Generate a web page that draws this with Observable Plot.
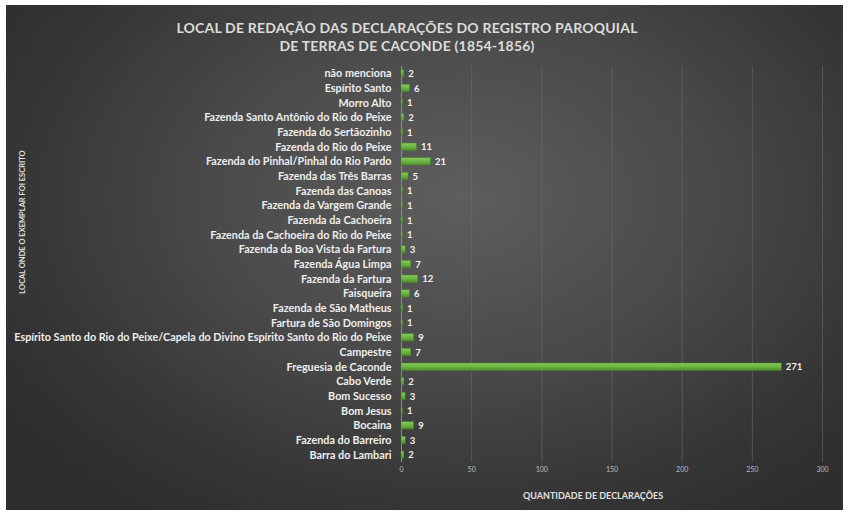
<!DOCTYPE html>
<html><head><meta charset="utf-8">
<script src="https://cdn.jsdelivr.net/npm/d3@7"></script>
<script src="https://cdn.jsdelivr.net/npm/@observablehq/plot@0.6"></script>
<style>
html,body{margin:0;padding:0;background:#fff;}
#page{position:relative;width:850px;height:517px;background:#fff;overflow:hidden;font-family:Lato,"Open Sans",sans-serif;}
#panel{position:absolute;left:6px;top:5px;width:837px;height:505px;
 background:radial-gradient(ellipse 65% 75% at 54% 38%, #5e5e5e 0%, #4a4a4a 45%, #363636 80%, #2e2e2e 100%);}
#title{position:absolute;left:0;top:19px;width:814px;text-align:center;color:#dcdcdc;font-weight:bold;font-size:14px;line-height:18px;letter-spacing:0.2px;}
#chart{position:absolute;left:0;top:0;}
#ytitle{position:absolute;left:22px;top:222px;transform:translate(-50%,-50%) rotate(-90deg);white-space:nowrap;color:#e0e0e0;font-weight:bold;font-size:7.5px;}
#xtitle{position:absolute;left:593px;top:495px;transform:translate(-50%,-50%);white-space:nowrap;color:#e0e0e0;font-weight:bold;font-size:9px;}
</style>
</head><body>
<div id="page">
 <div id="panel"></div>
 <div id="title">LOCAL DE REDAÇÃO DAS DECLARAÇÕES DO REGISTRO PAROQUIAL<br>DE TERRAS DE CACONDE (1854-1856)</div>
 <div id="chart"></div>
 <div id="ytitle">LOCAL ONDE O EXEMPLAR FOI ESCRITO</div>
 <div id="xtitle">QUANTIDADE DE DECLARAÇÕES</div>
</div>
<script>
const categories = [
 "não menciona",
 "Espírito Santo",
 "Morro Alto",
 "Fazenda Santo Antônio do Rio do Peixe",
 "Fazenda do Sertãozinho",
 "Fazenda do Rio do Peixe",
 "Fazenda do Pinhal/Pinhal do Rio Pardo",
 "Fazenda das Três Barras",
 "Fazenda das Canoas",
 "Fazenda da Vargem Grande",
 "Fazenda da Cachoeira",
 "Fazenda da Cachoeira do Rio do Peixe",
 "Fazenda da Boa Vista da Fartura",
 "Fazenda Água Limpa",
 "Fazenda da Fartura",
 "Faisqueira",
 "Fazenda de São Matheus",
 "Fartura de São Domingos",
 "Espírito Santo do Rio do Peixe/Capela do Divino Espírito Santo do Rio do Peixe",
 "Campestre",
 "Freguesia de Caconde",
 "Cabo Verde",
 "Bom Sucesso",
 "Bom Jesus",
 "Bocaina",
 "Fazenda do Barreiro",
 "Barra do Lambari"
];
const counts = [2,6,1,2,1,11,21,5,1,1,1,1,3,7,12,6,1,1,9,7,271,2,3,1,9,3,2];
const xTicks = [0,50,100,150,200,250,300];

const data = categories.map((c,i)=>({local:c, n:counts[i]}));

const defs = () => {
  const d = d3.create("svg:defs");
  const g = d.append("linearGradient").attr("id","barGrad").attr("x1",0).attr("x2",0).attr("y1",0).attr("y2",1);
  g.append("stop").attr("offset","0%").attr("stop-color","#86cc5c");
  g.append("stop").attr("offset","50%").attr("stop-color","#6db543");
  g.append("stop").attr("offset","100%").attr("stop-color","#4e8f2d");
  return d.node();
};

const chart = Plot.plot({
  width: 850, height: 517,
  marginLeft: 401, marginRight: 28, marginTop: 66, marginBottom: 55,
  style: {background: "transparent", fontFamily: "Lato, 'Open Sans', sans-serif", overflow: "visible"},
  x: {domain: [0,300], ticks: xTicks, label: null},
  y: {domain: categories, paddingInner: 0.5, paddingOuter: 0.25, round: false, label: null},
  marks: [
    defs,
    Plot.gridX(xTicks.slice(1), {stroke: "#707070", strokeOpacity: 0.55}),
    Plot.ruleX([0], {stroke: "#8c8c8c", strokeWidth: 1}),
    Plot.barX(data, {y: "local", x: "n", fill: "url(#barGrad)", stroke: "#4a852b", strokeWidth: 0.5}),
    Plot.text(data, {y: "local", x: "n", text: d => String(d.n), dx: 4, textAnchor: "start", fill: "#f2f2f2", fontWeight: "bold", fontSize: 9.5}),
    Plot.axisX({ticks: xTicks, tickSize: 0, tickPadding: 5, fontSize: 7, fill: "#bdbdbd", label: null}),
    Plot.axisY({tickSize: 0, tickPadding: 10, fontSize: 10.8, fontWeight: "bold", fill: "#eeeeee", label: null})
  ]
});
document.getElementById("chart").appendChild(chart);
</script>
</body></html>
